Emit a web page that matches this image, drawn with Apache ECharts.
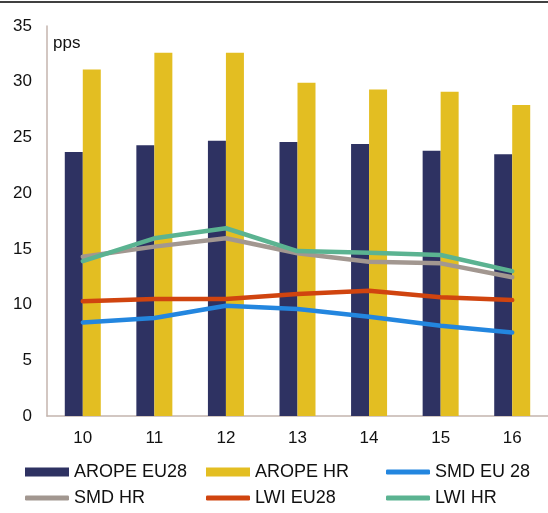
<!DOCTYPE html>
<html>
<head>
<meta charset="utf-8">
<script src="https://cdn.jsdelivr.net/npm/echarts@6/dist/echarts.min.js"></script>
<style>
  html, body { margin: 0; padding: 0; background: #fff; }
  #main { width: 548px; height: 513px; }
</style>
</head>
<body>
<div id="main"></div>
<script>
var years = ['10', '11', '12', '13', '14', '15', '16'];

var aropeEU = [23.7, 24.3, 24.7, 24.6, 24.4, 23.8, 23.5];
var aropeHR = [31.1, 32.6, 32.6, 29.9, 29.3, 29.1, 27.9];
var smdEU = [8.4, 8.8, 9.9, 9.6, 8.9, 8.1, 7.5];
var smdHR = [14.3, 15.2, 15.95, 14.6, 13.85, 13.7, 12.45];
var lwiEU = [10.3, 10.5, 10.5, 10.95, 11.25, 10.65, 10.4];
var lwiHR = [13.9, 15.95, 16.85, 14.8, 14.65, 14.45, 13.0];

var chartDom = document.getElementById('main');
var myChart = echarts.init(chartDom);
var option;

var font = 'Liberation Sans, Arial, sans-serif';
var axisColor = '#c4b5ae';

// one legend per entry so the three columns line up like the original
function legendItem(name, left, top, isLine) {
  return {
    left: left,
    top: top,
    padding: 0,
    itemWidth: 44,
    itemHeight: isLine ? 5 : 9,
    icon: isLine ? 'roundRect' : 'rect',
    textStyle: { fontFamily: font, fontSize: 18, color: '#111' },
    data: [name]
  };
}

function lineSeries(name, data, color) {
  return {
    name: name,
    type: 'line',
    data: data,
    symbol: 'none',
    lineStyle: { width: 4.5, color: color, cap: 'round' },
    itemStyle: { color: color }
  };
}

option = {
  animation: false,
  textStyle: { fontFamily: font },
  grid: { left: 47, top: 26, bottom: 97, right: -2, containLabel: false },
  legend: [
    legendItem('AROPE EU28', 25, 463, false),
    legendItem('AROPE HR', 206, 463, false),
    legendItem('SMD EU 28', 386, 463, true),
    legendItem('SMD HR', 25, 489, true),
    legendItem('LWI EU28', 206, 489, true),
    legendItem('LWI HR', 386, 489, true)
  ],
  graphic: [
    { type: 'line', shape: { x1: 0, y1: 2, x2: 548, y2: 2 }, style: { stroke: '#000', lineWidth: 1.5 } },
    { type: 'text', left: 53, top: 35, style: { text: 'pps', fontFamily: font, fontSize: 17, fill: '#111' } }
  ],
  xAxis: {
    type: 'category',
    data: years,
    axisLine: { lineStyle: { color: axisColor, width: 1.5 } },
    axisTick: { show: false },
    axisLabel: { fontSize: 17, color: '#111', margin: 14 }
  },
  yAxis: {
    type: 'value',
    min: 0,
    max: 35,
    interval: 5,
    axisLine: { show: true, lineStyle: { color: axisColor, width: 1.5 } },
    axisTick: { show: false },
    splitLine: { show: false },
    axisLabel: { fontSize: 17, color: '#111', margin: 15 }
  },
  series: [
    { name: 'AROPE EU28', type: 'bar', data: aropeEU, barWidth: 18, barGap: '0%', itemStyle: { color: '#2e3262' } },
    { name: 'AROPE HR', type: 'bar', data: aropeHR, barWidth: 18, barGap: '0%', itemStyle: { color: '#e3be22' } },
    lineSeries('SMD EU 28', smdEU, '#2386df'),
    lineSeries('SMD HR', smdHR, '#a29790'),
    lineSeries('LWI EU28', lwiEU, '#d0440f'),
    lineSeries('LWI HR', lwiHR, '#5bb391')
  ]
};

option && myChart.setOption(option);
</script>
</body>
</html>
